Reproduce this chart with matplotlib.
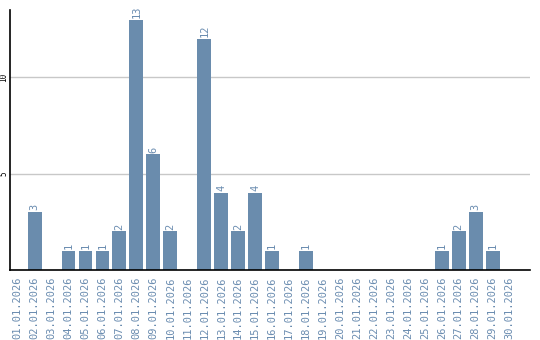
import matplotlib
matplotlib.use("Agg")
import matplotlib.pyplot as plt

dates = ["%02d.01.2026" % d for d in range(1, 31)]
counts = [0, 3, 0, 1, 1, 1, 2, 13, 6, 2, 0, 12, 4, 2, 4, 1, 0, 1,
          0, 0, 0, 0, 0, 0, 0, 1, 2, 3, 1, 0]

bar_color = "#6a8cad"
label_color = "#6a8cb0"

plt.rcParams['font.family'] = ['DejaVu Sans Mono']

fig = plt.figure(figsize=(5.4, 3.4), dpi=100)
ax = fig.add_axes([10 / 540, 70 / 340, 520 / 540, 260 / 340])

x = list(range(len(dates)))
ax.bar(x, counts, width=0.82, color=bar_color, zorder=2)

for i, v in zip(x, counts):
    if v > 0:
        ax.text(i, v + 0.1, str(v), rotation=90, ha="center", va="bottom",
                fontsize=7.5, color=label_color)

ax.set_xlim(-0.45, 30.2)
ax.set_ylim(0, 13.5)
ax.set_yticks([5, 10])
ax.set_yticklabels(["5", "10"], rotation=90, va="center", fontsize=5.5)
ax.set_xticks(x)
ax.set_xticklabels(dates, rotation=90, fontsize=7.5, color=label_color)
ax.tick_params(axis="x", length=0, pad=5)
ax.tick_params(axis="y", length=0, pad=1)
ax.grid(axis="y", color="#c8c8c8", linewidth=1, zorder=1)

for s in ["top", "right"]:
    ax.spines[s].set_visible(False)
ax.spines["left"].set_color("black")
ax.spines["bottom"].set_color("black")
ax.spines["left"].set_linewidth(1.2)
ax.spines["bottom"].set_linewidth(1.2)

fig.savefig("out.png", dpi=100)
